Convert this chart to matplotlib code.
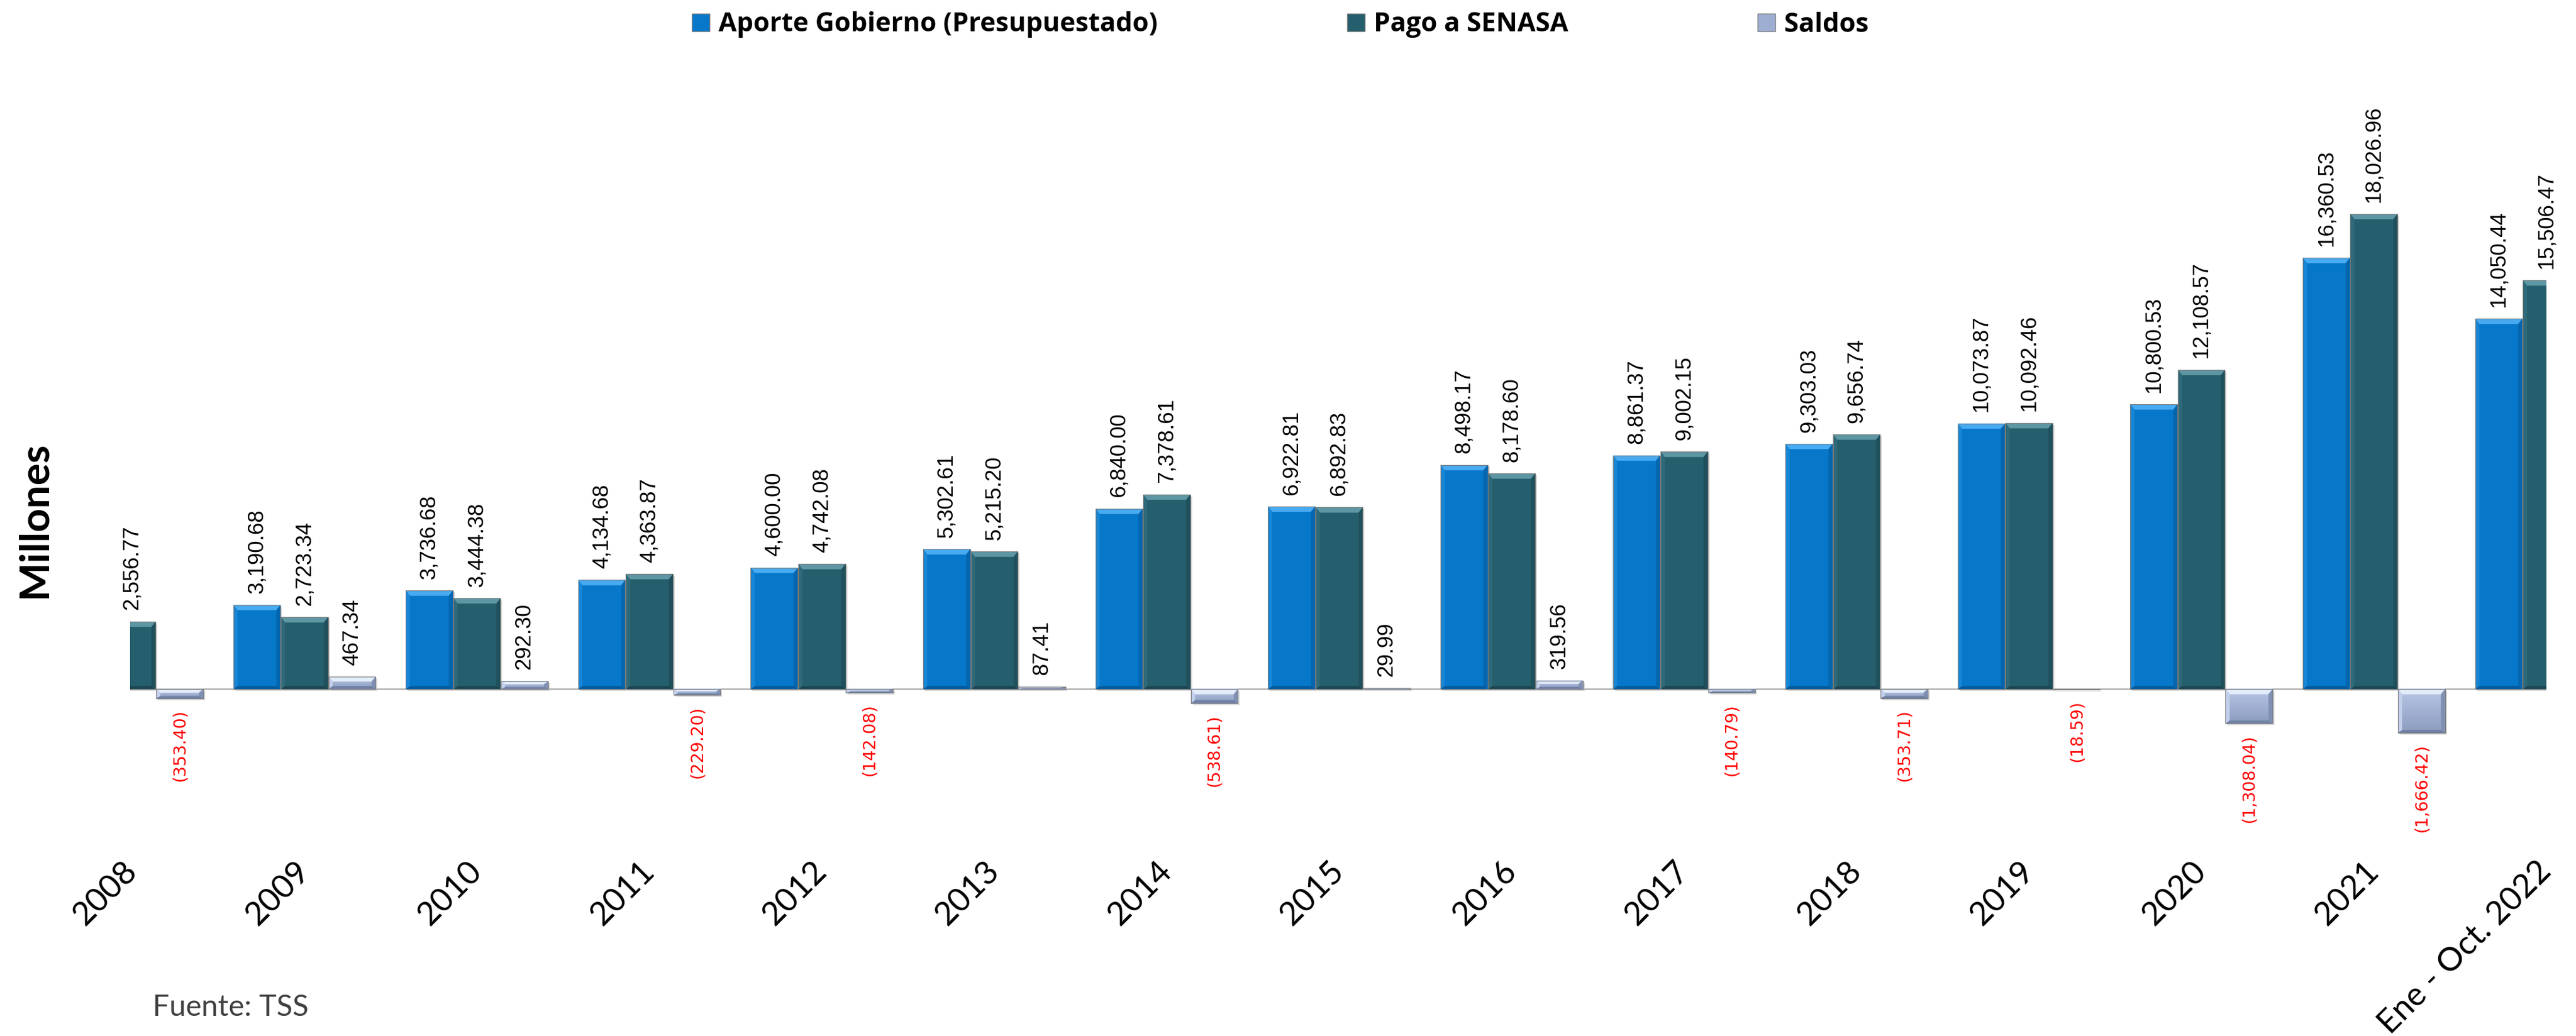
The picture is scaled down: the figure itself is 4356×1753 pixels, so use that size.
import numpy as np
import matplotlib
matplotlib.use("Agg")
import matplotlib.pyplot as plt
from matplotlib.patches import Polygon, Patch
from matplotlib.colors import LinearSegmentedColormap

# --- data (millones de RD$) ---
periodos = ["2008", "2009", "2010", "2011", "2012", "2013", "2014", "2015",
            "2016", "2017", "2018", "2019", "2020", "2021", "Ene - Oct. 2022"]
aporte_gobierno = [np.nan, 3190.68, 3736.68, 4134.68, 4600.00, 5302.61, 6840.00,
                   6922.81, 8498.17, 8861.37, 9303.03, 10073.87, 10800.53,
                   16360.53, 14050.44]
pago_senasa = [2556.77, 2723.34, 3444.38, 4363.87, 4742.08, 5215.20, 7378.61,
               6892.83, 8178.60, 9002.15, 9656.74, 10092.46, 12108.57,
               18026.96, 15506.47]
saldos = [-353.40, 467.34, 292.30, -229.20, -142.08, 87.41, -538.61, 29.99,
          319.56, -140.79, -353.71, -18.59, -1308.04, -1666.42, np.nan]
series = ["Aporte Gobierno (Presupuestado)", "Pago a SENASA", "Saldos"]

W, H, DPI = 4356, 1753, 100
fig = plt.figure(figsize=(W / DPI, H / DPI), dpi=DPI)
AX_POS = [0.0506, 0.2841, 0.9379, 0.5596]
ax = fig.add_axes(AX_POS)
XLIM = (-0.01, 14.0)
YLIM = (-2000, 20000)

# data units per pixel, for bevel and shadow sizes
ux = (XLIM[1] - XLIM[0]) / (AX_POS[2] * W)
uy = (YLIM[1] - YLIM[0]) / (AX_POS[3] * H)

BAR_W = 0.273
OFFSETS = [-0.276, 0.0, 0.276]

styles = [
    dict(face="#0677C9", top="#48AAF0", left="#1886D6", right="#0566AE", bottom="#055A9C"),
    dict(face="#255E6C", top="#5E96A3", left="#2E6A79", right="#1F505C", bottom="#1B4651"),
    dict(face="#9DAED2", top="#E3ECFA", left="#C3D0EC", right="#8090B3", bottom="#7080A4"),
]
saldo_cmap = LinearSegmentedColormap.from_list("saldo", ["#B8C7E6", "#8C9CBF"])
grad = np.linspace(0, 1, 64)[:, None]


def draw_bevel(x0, x1, lo, hi, st):
    h_px = (hi - lo) / uy
    if h_px < 3:
        return
    dx = 7 * ux
    dt = min(9, h_px * 0.4) * uy
    db = min(5, h_px * 0.25) * uy
    faces = [
        ([(x0, hi), (x1, hi), (x1 - dx, hi - dt), (x0 + dx, hi - dt)], st["top"]),
        ([(x0, lo), (x1, lo), (x1 - dx, lo + db), (x0 + dx, lo + db)], st["bottom"]),
        ([(x0, lo), (x0, hi), (x0 + dx, hi - dt), (x0 + dx, lo + db)], st["left"]),
        ([(x1, lo), (x1, hi), (x1 - dx, hi - dt), (x1 - dx, lo + db)], st["right"]),
    ]
    for pts, c in faces:
        ax.add_patch(Polygon(pts, closed=True, facecolor=c, edgecolor="none", zorder=3))


ax.axhline(0, color="#A6A6A6", lw=1.5, zorder=1)

for k, vals in enumerate([aporte_gobierno, pago_senasa, saldos]):
    st = styles[k]
    idx = [i for i, v in enumerate(vals) if not np.isnan(v)]
    xs = np.array(idx) + OFFSETS[k]
    hs = np.array([vals[i] for i in idx])

    # soft drop shadow
    ax.bar(xs + 3 * ux, hs, BAR_W, bottom=-3 * uy, color="#BFBFBF", alpha=0.6,
           zorder=1.5, linewidth=0)
    ax.bar(xs, hs, BAR_W, color=st["face"], zorder=2, linewidth=0)

    for x, v in zip(xs, hs):
        x0, x1 = x - BAR_W / 2, x + BAR_W / 2
        lo, hi = min(0, v), max(0, v)
        if k == 2:
            ax.imshow(grad, extent=(x0, x1, lo, hi), cmap=saldo_cmap, aspect="auto",
                      interpolation="bilinear", zorder=2.5)
        draw_bevel(x0, x1, lo, hi, st)

    ax.bar(xs, hs, BAR_W, facecolor="none", edgecolor="#7A7A7A", linewidth=0.8, zorder=4)

    # value labels
    for x, v in zip(xs, hs):
        if v >= 0:
            ax.annotate(f"{v:,.2f}", (x, v), xytext=(0, 14), textcoords="offset points",
                        rotation=90, ha="center", va="bottom", fontsize=26.5,
                        family="Liberation Sans", color="black", annotation_clip=False)
        else:
            ax.annotate(f"({-v:,.2f})", (x, v), xytext=(0, -13.5), textcoords="offset points",
                        rotation=90, ha="center", va="top", fontsize=20.5,
                        family="DejaVu Sans", color="red", annotation_clip=False)

ax.set_xlim(XLIM)
ax.set_ylim(YLIM)
ax.set_yticks([])
ax.set_xticks(range(len(periodos)))
ax.set_xticklabels(periodos, rotation=45, ha="right", va="center",
                   rotation_mode="anchor", fontsize=40, family="Lato")
ax.tick_params(axis="x", length=0, pad=152)
for s in ax.spines.values():
    s.set_visible(False)

handles = [Patch(facecolor=st["face"], edgecolor="#7F7F7F", linewidth=1) for st in styles]
fig.legend(handles, series, loc="center", bbox_to_anchor=(2165 / W, 1 - 42 / H),
           ncol=3, frameon=False, prop=dict(family="Open Sans", weight="bold", size=32),
           handlelength=0.675, handleheight=0.675, handletextpad=0.34,
           columnspacing=7.2, borderpad=0, borderaxespad=0)

fig.text(58 / W, 1 - 879 / H, "Millones", rotation=90, ha="center", va="center",
         fontsize=50, fontweight="bold", family="Lato")
fig.text(258 / W, 1 - 1705 / H, "Fuente: TSS", ha="left", va="center",
         fontsize=36, color="#404040", family="Lato")

fig.savefig("out.png", dpi=DPI)
